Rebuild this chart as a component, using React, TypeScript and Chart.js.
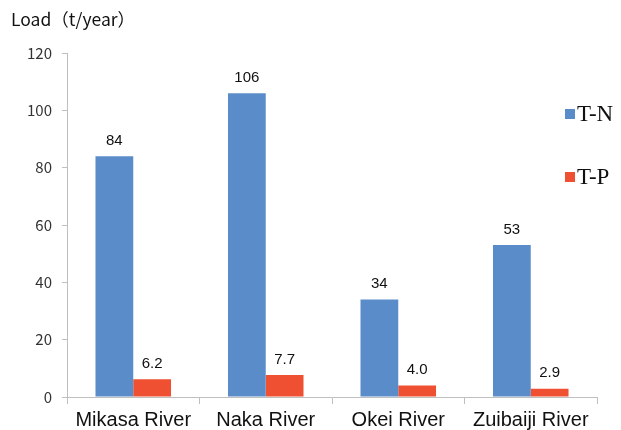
import React, { useEffect, useRef } from "react";
import { Chart, registerables } from "chart.js";

Chart.register(...registerables);

const categories = ["Mikasa River", "Naka River", "Okei River", "Zuibaiji River"];
const tnValues = [84, 106, 34, 53];
const tpValues = [6.2, 7.7, 4.0, 2.9];
const tnLabels = ["84", "106", "34", "53"];
const tpLabels = ["6.2", "7.7", "4.0", "2.9"];
const seriesNames = ["T-N", "T-P"];
const yTicks = [0, 20, 40, 60, 80, 100, 120];
const yTitle = "Load（t/year）";

const BLUE = "#5a8cca";
const RED = "#ef5032";

export default function App() {
  const ref = useRef<HTMLCanvasElement | null>(null);
  useEffect(() => {
    if (!ref.current) return;
    const labelsPlugin = {
      id: "extras",
      afterDatasetsDraw(chart: any) {
        const ctx = chart.ctx;
        ctx.save();
        ctx.fillStyle = "#111";
        ctx.font = "15px 'Liberation Sans', Arial, sans-serif";
        ctx.textAlign = "center";
        ctx.textBaseline = "bottom";
        const lbls = [tnLabels, tpLabels];
        [0, 1].forEach((di) => {
          const meta = chart.getDatasetMeta(di);
          meta.data.forEach((bar: any, i: number) => {
            ctx.fillText(lbls[di][i], bar.x, bar.y - 8);
          });
        });
        // title
        ctx.textAlign = "left";
        ctx.textBaseline = "middle";
        ctx.fillStyle = "#111";
        ctx.font = "17.5px 'Noto Sans CJK JP', sans-serif";
        ctx.fillText(yTitle, 11, 19);
        // legend
        const colors = [BLUE, RED];
        const ys = [114, 177];
        ctx.font = "23px 'Liberation Serif', 'Times New Roman', serif";
        seriesNames.forEach((n, k) => {
          ctx.fillStyle = colors[k];
          ctx.fillRect(565, ys[k] - 5, 10, 10);
          ctx.fillStyle = "#111";
          ctx.fillText(n, 577, ys[k] + 1);
        });
        ctx.restore();
      },
    };
    const chart = new Chart(ref.current, {
      type: "bar",
      data: {
        labels: categories,
        datasets: [
          { label: seriesNames[0], data: tnValues, backgroundColor: BLUE, categoryPercentage: 0.57, barPercentage: 1 },
          { label: seriesNames[1], data: tpValues, backgroundColor: RED, categoryPercentage: 0.57, barPercentage: 1 },
        ],
      },
      options: {
        animation: false,
        responsive: false,
        layout: { padding: { top: 53, right: 24, left: 0, bottom: 0 } },
        plugins: { legend: { display: false }, tooltip: { enabled: false } },
        scales: {
          x: {
            grid: { offset: true, drawOnChartArea: false, drawTicks: true, tickLength: 7, color: "#bfbfbf" },
            border: { color: "#bfbfbf", width: 1 },
            ticks: { color: "#111", padding: 4, font: { size: 20, family: "'Liberation Sans', Arial, sans-serif" } },
            afterFit: (s: any) => { s.height = 33; },
          },
          y: {
            min: 0,
            max: 120,
            afterBuildTicks: (s: any) => { s.ticks = yTicks.map((v) => ({ value: v })); },
            grid: { drawOnChartArea: false, drawTicks: true, tickLength: 5, color: "#bfbfbf" },
            border: { color: "#bfbfbf", width: 1 },
            ticks: { color: "#333", padding: 10, font: { size: 15, family: "'Noto Sans CJK JP', sans-serif" } },
            afterFit: (s: any) => { s.width = 67; },
          },
        },
      },
      plugins: [labelsPlugin],
    });
    return () => chart.destroy();
  }, []);
  return (
    <div style={{ position: "absolute", left: 0, top: 0, width: 621, height: 430, background: "#fff" }}>
      <canvas ref={ref} width={621} height={430} />
    </div>
  );
}
